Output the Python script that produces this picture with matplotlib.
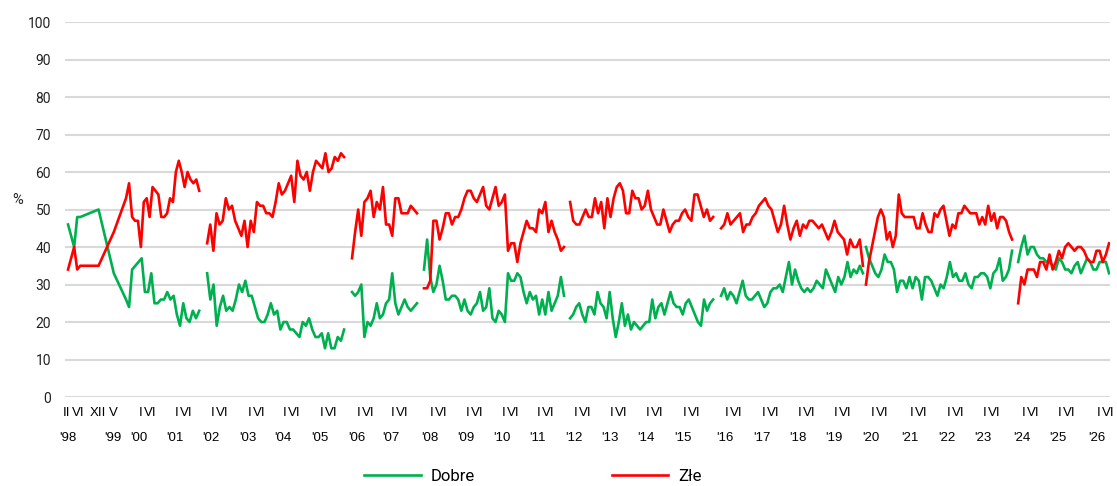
import matplotlib.pyplot as plt
import matplotlib.transforms as mtransforms
import numpy as np

# sparse surveys 1998-99 (month slot counted from Jan 1998)
early_months = [1, 3, 4, 5, 11, 16, 20, 21]
dobre_early = [46, 40, 48, 48, 50, 33, 26, 24]
zle_early = [34, 40, 34, 35, 35, 44, 53, 57]

dobre_s1 = [34, 35, 36, 37, 28, 28, 33, 25, 25, 26, 26, 28, 26, 27, 22, 19, 25, 21, 20, 23, 21, 23]
zle_s1 = [48, 47, 47, 40, 52, 53, 48, 56, 55, 54, 48, 48, 49, 53, 52, 60, 63, 60, 56, 60, 58, 57, 58, 55]

dobre_s2 = [33, 26, 30, 19, 24, 27, 23, 24, 23, 26, 30, 28, 31, 27, 27, 24, 21, 20, 20, 22, 25, 22,
            23, 18, 20, 20, 18, 18, 17, 16, 20, 19, 21, 18, 16, 16, 17, 13, 17, 13, 13, 16, 15, 18]
zle_s2 = [41, 46, 39, 49, 46, 47, 53, 50, 51, 47, 45, 43, 47, 40, 47, 44, 52, 51, 51, 49, 49, 48, 52,
          57, 54, 55, 57, 59, 52, 63, 59, 58, 60, 55, 60, 63, 62, 61, 65, 60, 61, 64, 63, 65, 64]

dobre_s3 = [28, 27, 28, 30, 16, 20, 19, 21, 25, 21, 22, 25, 26, 33, 25, 22, 24, 26, 24, 23, 24, 25]
zle_s3 = [37, 44, 50, 43, 52, 53, 55, 48, 52, 50, 56, 46, 46, 43, 53, 53, 49, 49, 49, 51, 50, 49]

dobre_s4 = [34, 42, 32, 28, 30, 35, 31, 26, 26, 27, 27, 26, 23, 26, 23, 22, 24, 25, 28, 23, 24, 29, 21,
            20, 23, 22, 20, 33, 31, 31, 33, 32, 28, 25, 28, 26, 27, 22, 26, 22, 28, 23, 25, 27, 32, 27]
zle_s4 = [29, 29, 31, 47, 47, 42, 45, 49, 49, 46, 48, 48, 50, 53, 55, 55, 53, 52, 54, 56, 51, 50, 53,
          56, 51, 52, 54, 39, 41, 41, 36, 41, 44, 47, 45, 45, 44, 50, 49, 52, 44, 47, 44, 42, 39, 40]

dobre_s5 = [21, 22, 24, 25, 22, 20, 24, 24, 22, 28, 25, 24, 21, 28, 21, 16, 20, 25, 19, 22, 18, 20, 19, 18,
            19, 20, 20, 26, 21, 24, 25, 22, 25, 28, 25, 24, 24, 22, 25, 26, 24, 22, 20, 19, 26, 23, 25, 26]
zle_s5 = [52, 47, 46, 46, 48, 50, 48, 48, 53, 49, 52, 45, 53, 48, 53, 56, 57, 55, 49, 49, 55, 53, 53, 50,
          51, 55, 50, 48, 46, 46, 50, 47, 44, 46, 47, 47, 49, 50, 48, 47, 54, 54, 51, 48, 50, 47, 48]

dobre_s6 = [27, 29, 26, 28, 27, 25, 28, 31, 27, 26, 26, 27, 28, 26, 24, 25, 28, 29, 29, 30, 28, 32, 36, 30,
            34, 31, 29, 28, 29, 28, 29, 31, 30, 29, 34, 32, 30, 28, 32, 30, 32, 36, 32, 34, 33, 35, 33]
zle_s6 = [45, 46, 49, 46, 47, 48, 49, 44, 46, 46, 48, 49, 51, 52, 53, 51, 50, 47, 44, 46, 51, 46, 42,
          45, 47, 43, 46, 45, 47, 47, 46, 45, 46, 44, 42, 44, 47, 44, 43, 42, 38, 42, 40, 40, 42, 35]

dobre_s7 = [40, 37, 35, 33, 32, 34, 38, 36, 36, 34, 28, 31, 31, 29, 32, 29, 32, 31, 26, 32, 32, 31, 29, 27,
            30, 29, 32, 36, 32, 33, 31, 31, 33, 30, 29, 32, 32, 33, 33, 32, 29, 33, 34, 37, 31, 32, 34, 39]
zle_s7 = [30, 36, 40, 44, 48, 50, 48, 42, 44, 40, 43, 54, 49, 48, 48, 48, 48, 45, 45, 49, 46, 44, 44, 49, 48,
          50, 51, 47, 43, 46, 45, 49, 49, 51, 50, 49, 49, 49, 46, 48, 46, 51, 47, 49, 45, 48, 48, 47, 44, 42]

dobre_s8 = [36, 40, 43, 38, 40, 40, 38, 37, 37, 36, 36, 35, 34, 37, 36, 34, 34, 33, 35, 36, 33, 35, 37, 36,
            34, 34, 36, 36, 36, 33]
zle_s8 = [25, 32, 30, 34, 34, 34, 32, 36, 36, 34, 38, 34, 36, 39, 37, 40, 41, 40, 39, 40, 40, 39, 37, 36,
          36, 39, 39, 36, 38, 41]

dobre_segments = [dobre_s1, dobre_s2, dobre_s3, dobre_s4, dobre_s5, dobre_s6, dobre_s7, dobre_s8]
zle_segments = [zle_s1, zle_s2, zle_s3, zle_s4, zle_s5, zle_s6, zle_s7, zle_s8]
# first and last month slot of each survey block
segment_spans = [(22, 44), (46.6, 91.5), (94.1, 115.4), (117.7, 163.6),
                 (165.6, 212.5), (215.1, 261.6), (262.6, 310.5), (312.5, 342.3)]

years = ["'98", "'99", "'00", "'01", "'02", "'03", "'04", "'05", "'06", "'07", "'08", "'09", "'10",
         "'11", "'12", "'13", "'14", "'15", "'16", "'17", "'18", "'19", "'20", "'21", "'22", "'23",
         "'24", "'25", "'26"]
year_pos = [1.0, 15.7, 24.3, 36.1, 47.9, 60.0, 71.5, 83.6, 95.7, 106.9, 119.7, 131.5, 143.3,
            154.8, 166.9, 178.7, 190.5, 202.6, 216.4, 228.5, 240.3, 252.1, 264.3, 277.0, 289.2, 301.0,
            313.8, 325.6, 338.4]
early_month_labels = ["II", "VI", "XII", "V"]
early_month_pos = [0.5, 4.3, 10.8, 15.7]

GREEN = "#00b050"
RED = "#ff0000"

fig = plt.figure(figsize=(11.17, 4.86), dpi=100)
ax = fig.add_axes([0.0582, 0.1831, 0.9355, 0.7716])

for i, (d, z) in enumerate(zip(dobre_segments, zle_segments)):
    a, b = segment_spans[i]
    xd = np.linspace(a, b, len(d))
    xz = np.linspace(a, b, len(z))
    if i == 0:
        xd = np.concatenate([early_months, xd])
        xz = np.concatenate([early_months, xz])
        d = dobre_early + d
        z = zle_early + z
    ax.plot(xd, d, color=GREEN, lw=1.9, label="Dobre" if i == 0 else None)
    ax.plot(xz, z, color=RED, lw=1.9, label="Złe" if i == 0 else None)

ax.set_ylim(0, 100)
ax.set_xlim(0, 342.6)
ax.set_yticks(np.arange(0, 101, 10))
ax.yaxis.grid(True, color="#d9d9d9", lw=1.5)
ax.set_axisbelow(True)
for s in ax.spines.values():
    s.set_visible(False)
ax.set_xticks([])
ax.tick_params(axis="y", length=0, pad=10, labelsize=10, labelcolor="#222222")
for lab in ax.get_yticklabels():
    lab.set_family("Roboto")

trans = mtransforms.blended_transform_factory(ax.transData, ax.transAxes)
narrow = ["Liberation Sans Narrow", "Liberation Sans"]
for lab, p in zip(early_month_labels, early_month_pos):
    ax.text(p, -0.042, lab, transform=trans, ha="center", va="center", fontsize=9.5, family=narrow)
for p in year_pos[2:]:
    ax.text(p + 0.6, -0.042, "I", transform=trans, ha="center", va="center", fontsize=9.5, family=narrow)
    ax.text(p + 3.6, -0.042, "VI", transform=trans, ha="center", va="center", fontsize=9.5, family=narrow)
for lab, p in zip(years, year_pos):
    ax.text(p, -0.108, lab, transform=trans, ha="center", va="center", fontsize=9.5, family=narrow)

fig.text(0.011, 0.588, "%", fontsize=10.5, family="Roboto", color="#222222", va="center")

fig.legend(loc="center", bbox_to_anchor=(0.477, 0.02), ncol=2, frameon=False,
           prop={"family": "Roboto", "size": 12}, handlelength=3.4, handletextpad=0.6,
           columnspacing=8.2)

fig.savefig("out.png", dpi=100)
